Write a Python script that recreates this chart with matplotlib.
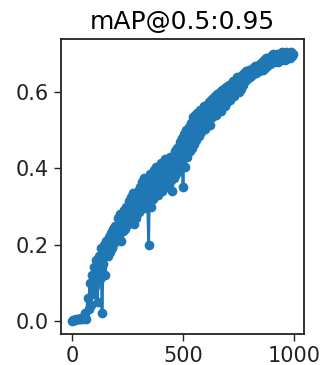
#!/usr/bin/env python3

import numpy as np
import matplotlib
matplotlib.use("Agg")
import matplotlib.pyplot as plt

# epochs, sampled every 5
epochs = np.arange(0, 1000, 5)

map_50_95 = [
    0.000, 0.001, 0.002, 0.002, 0.003, 0.004, 0.003, 0.005, 0.006, 0.004, 0.008, 0.010,
    0.020, 0.005, 0.060, 0.030, 0.100, 0.040, 0.120, 0.070, 0.140, 0.090, 0.160, 0.050,
    0.170, 0.110, 0.190, 0.020, 0.150, 0.200, 0.120, 0.210, 0.170, 0.220, 0.180, 0.230,
    0.190, 0.240, 0.205, 0.250, 0.215, 0.270, 0.225, 0.280, 0.210, 0.275, 0.235, 0.290,
    0.240, 0.300, 0.255, 0.315, 0.260, 0.325, 0.265, 0.335, 0.255, 0.325, 0.270, 0.340,
    0.285, 0.350, 0.295, 0.365, 0.300, 0.375, 0.295, 0.370, 0.320, 0.200, 0.385, 0.300,
    0.385, 0.320, 0.395, 0.335, 0.405, 0.330, 0.400, 0.340, 0.415, 0.340, 0.410, 0.350,
    0.425, 0.350, 0.420, 0.360, 0.430, 0.370, 0.340, 0.425, 0.375, 0.445, 0.385, 0.455,
    0.395, 0.470, 0.405, 0.480, 0.350, 0.490, 0.405, 0.500, 0.430, 0.510, 0.445, 0.520,
    0.455, 0.535, 0.465, 0.540, 0.475, 0.545, 0.485, 0.555, 0.495, 0.555, 0.505, 0.565,
    0.505, 0.565, 0.525, 0.575, 0.515, 0.580, 0.535, 0.585, 0.545, 0.590, 0.540, 0.595,
    0.555, 0.600, 0.550, 0.605, 0.565, 0.610, 0.565, 0.615, 0.575, 0.620, 0.580, 0.620,
    0.590, 0.630, 0.590, 0.630, 0.600, 0.640, 0.600, 0.640, 0.610, 0.645, 0.620, 0.650,
    0.630, 0.655, 0.635, 0.660, 0.640, 0.660, 0.645, 0.665, 0.650, 0.670, 0.650, 0.670,
    0.655, 0.675, 0.660, 0.680, 0.660, 0.685, 0.665, 0.690, 0.670, 0.690, 0.675, 0.695,
    0.680, 0.700, 0.680, 0.695, 0.685, 0.700, 0.680, 0.700, 0.685, 0.705, 0.690, 0.700,
    0.685, 0.705, 0.690, 0.700, 0.690, 0.705, 0.695, 0.700,
]

title = "mAP@0.5:0.95"


def main() -> None:
    fig = plt.figure(figsize=(3.22, 3.65), dpi=100)
    ax = fig.add_axes([0.1894, 0.0849, 0.7546, 0.8081])

    ax.plot(epochs, map_50_95, marker="o", color="#1f77b4",
            linewidth=2.0, markersize=7.0, markeredgewidth=0)

    ax.set_title(title, fontsize=18, pad=7)
    ax.set_xticks([0, 500, 1000])
    ax.set_yticks([0.0, 0.2, 0.4, 0.6])
    ax.tick_params(labelsize=15, width=1.0, length=5, colors="#222222")
    for spine in ax.spines.values():
        spine.set_linewidth(1.3)
        spine.set_color("#222222")

    fig.savefig("out.png", dpi=100)


if __name__ == "__main__":
    main()
